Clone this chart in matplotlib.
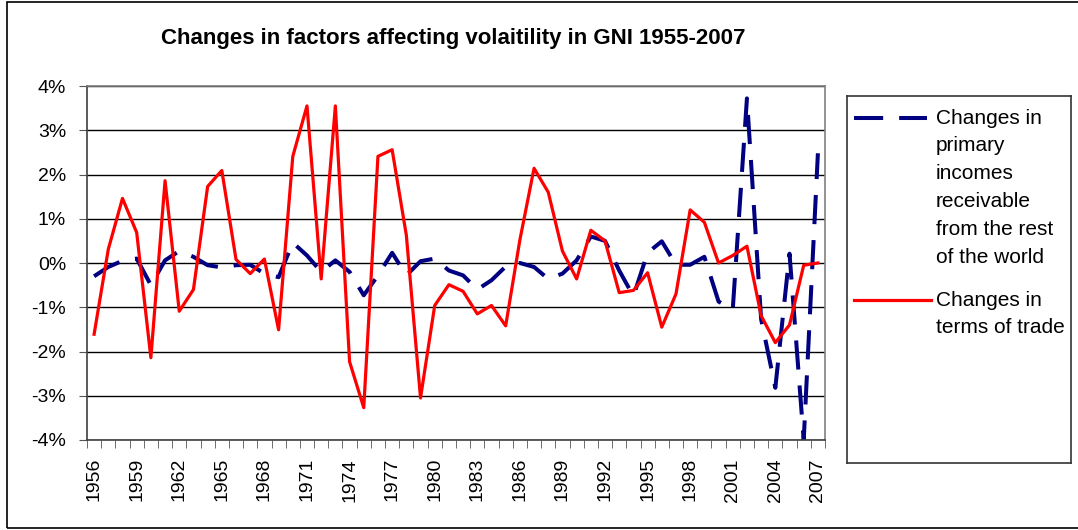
import numpy as np
import matplotlib
matplotlib.use("Agg")
import matplotlib.pyplot as plt
from matplotlib.patches import Rectangle
from matplotlib.lines import Line2D

plt.rcParams['font.family'] = ['Liberation Sans', 'DejaVu Sans']
plt.rcParams['lines.scale_dashes'] = False

years = list(range(1956, 2008))

# changes in primary incomes receivable from the rest of the world (%)
primary = [-0.30, -0.09, 0.05, 0.10, -0.50, 0.06, 0.27, 0.14, -0.05, -0.10,
           -0.05, -0.04, -0.24, -0.32, 0.46, 0.17, -0.20, 0.06, -0.20, -0.73,
           -0.28, 0.23, -0.28, 0.04, 0.10, -0.17, -0.28, -0.60, -0.39, -0.08,
           0.00, -0.09, -0.36, -0.24, 0.06, 0.60, 0.50, -0.17, -0.75, 0.23,
           0.49, -0.04, -0.04, 0.14, -0.87, -1.05, 3.72, -1.27, -2.82, 0.21,
           -4.00, 2.48]

# changes in terms of trade (%)
trade = [-1.61, 0.31, 1.46, 0.69, -2.14, 1.86, -1.09, -0.60, 1.73, 2.09,
         0.08, -0.24, 0.09, -1.51, 2.41, 3.55, -0.36, 3.55, -2.23, -3.27,
         2.41, 2.56, 0.63, -3.05, -0.96, -0.49, -0.64, -1.15, -0.96, -1.42,
         0.52, 2.14, 1.60, 0.27, -0.36, 0.74, 0.50, -0.67, -0.62, -0.22,
         -1.45, -0.70, 1.20, 0.92, 0.00, 0.17, 0.38, -1.19, -1.80, -1.40,
         -0.05, 0.00]

label_primary = ["Changes in", "primary", "incomes", "receivable",
                 "from the rest", "of the world"]
label_trade = ["Changes in", "terms of trade"]

W, H = 1078, 530
fig = plt.figure(figsize=(W / 100, H / 100), dpi=100)

# outer chart border
fig.add_artist(Rectangle((7 / W, 2 / H), 1.2, (528 - 2) / H, transform=fig.transFigure,
                         fill=False, ec='black', lw=1.2))

ax = fig.add_axes([87 / W, 1 - 440 / H, (825 - 87) / W, (440 - 86) / H])
x = np.arange(len(years))

ax.plot(x, primary, color='#000080', lw=2.9, dashes=(21, 11.5), solid_capstyle='butt')
ax.plot(x, trade, color='#ff0000', lw=2.3)

ax.set_xlim(-0.5, len(years) - 0.5)
ax.set_ylim(-4, 4)
ax.set_yticks(range(-4, 5))
ax.set_yticklabels(['%d%%' % v for v in range(-4, 5)], fontsize=14)
ax.yaxis.grid(True, color='black', lw=1)
ax.set_axisbelow(True)

ax.set_xticks(x[::3])
ax.set_xticklabels([str(y) for y in years[::3]], rotation=90, fontsize=14)
ax.tick_params(axis='x', length=0, pad=13)
ax.set_xticks(np.arange(-0.5, len(years), 1), minor=True)
ax.tick_params(axis='x', which='minor', length=6, color='#555555', direction='out')
ax.tick_params(axis='y', length=6, pad=9, color='#555555')

for s in ax.spines.values():
    s.set_color('#808080')
    s.set_linewidth(1.2)
ax.spines['left'].set_color('#404040')
ax.spines['bottom'].set_color('#404040')

ax.set_title("Changes in factors affecting volaitility in GNI 1955-2007",
             fontsize=16, fontweight='bold', pad=30, x=0.496)

# legend box
lax = fig.add_axes([847 / W, 1 - 463 / H, (1071 - 847) / W, (463 - 96) / H])
lax.set_xlim(847, 1071)
lax.set_ylim(463, 96)
lax.set_xticks([])
lax.set_yticks([])
for s in lax.spines.values():
    s.set_color('#333333')
    s.set_linewidth(1.2)
lax.add_line(Line2D([854, 927], [118, 118], color='#000080', lw=2.9,
                    dashes=(21, 11.5), solid_capstyle='butt'))
lax.add_line(Line2D([854, 931], [300, 300], color='#ff0000', lw=2.3))
for i, line in enumerate(label_primary):
    lax.text(936, 118 + i * 27.8, line, fontsize=15, va='center', ha='left')
for i, line in enumerate(label_trade):
    lax.text(936, 300 + i * 27.8, line, fontsize=15, va='center', ha='left',
             clip_on=False)

fig.savefig('out.png', dpi=100)
